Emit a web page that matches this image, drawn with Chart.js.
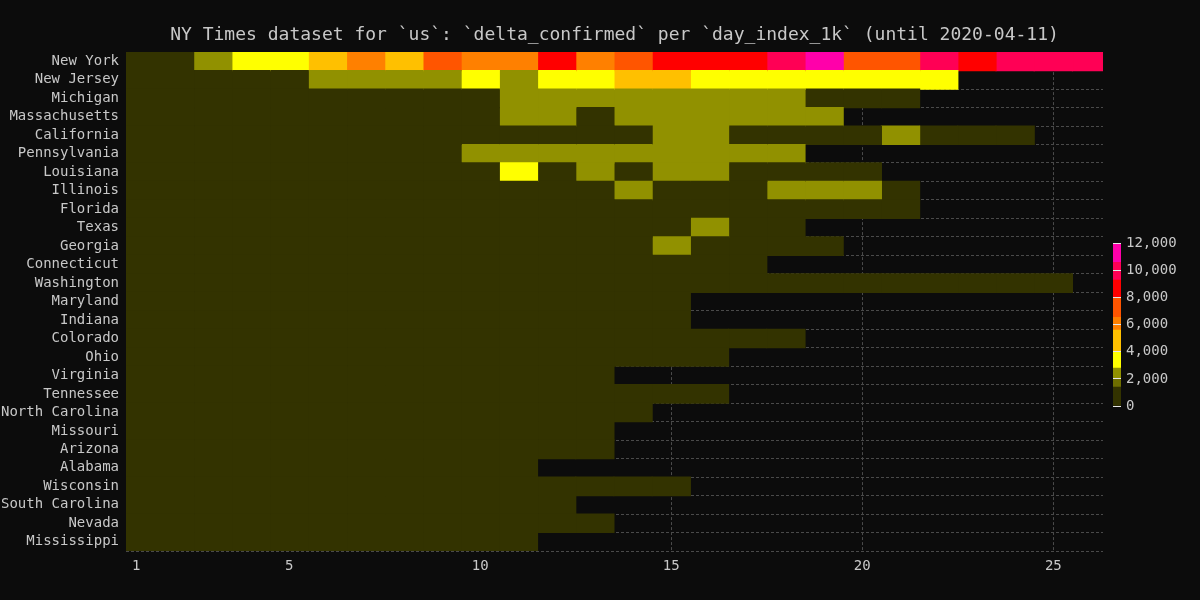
<!DOCTYPE html>
<html>
<head>
<meta charset="utf-8">
<script src="https://cdn.jsdelivr.net/npm/chart.js@4.4.1/dist/chart.umd.min.js"></script>
<style>
  html, body { margin: 0; padding: 0; background: #0c0c0c; }
  #wrap { position: relative; width: 1200px; height: 600px; background: #0c0c0c; }
  #main { position: absolute; left: 0; top: 0; }
  #bar { position: absolute; left: 1100px; top: 230px; }
</style>
</head>
<body>
<div id="wrap">
  <canvas id="main" width="1200" height="600"></canvas>
  <canvas id="bar" width="100" height="190"></canvas>
</div>
<script>
// ---------- data ----------
const days = [1, 2, 3, 4, 5, 6, 7, 8, 9, 10, 11, 12, 13, 14, 15, 16, 17, 18, 19, 20, 21, 22, 23, 24, 25, 26];
const xTicks = [1, 5, 10, 15, 20, 25];

const states = ['New York', 'New Jersey', 'Michigan', 'Massachusetts', 'California', 'Pennsylvania',
  'Louisiana', 'Illinois', 'Florida', 'Texas', 'Georgia', 'Connecticut', 'Washington', 'Maryland',
  'Indiana', 'Colorado', 'Ohio', 'Virginia', 'Tennessee', 'North Carolina', 'Missouri', 'Arizona',
  'Alabama', 'Wisconsin', 'South Carolina', 'Nevada', 'Mississippi'];

// delta_confirmed per day_index_1k, one array per state
const newYork       = [600, 1200, 2400, 3700, 3300, 4900, 5800, 4700, 7300, 6300, 6200, 8700, 6200, 7300, 9000, 8400, 8900, 10300, 11200, 7600, 7800, 10100, 8900, 9900, 10400, 9700];
const newJersey     = [200, 400, 500, 700, 900, 2300, 2500, 2300, 2600, 3500, 2300, 3600, 3500, 4300, 4100, 3400, 3700, 3600, 3300, 3900, 3600, 3500];
const michigan      = [300, 350, 500, 550, 700, 800, 900, 1000, 1200, 1300, 2100, 2400, 2200, 2500, 2300, 2600, 2200, 2100, 1300, 1200, 1000];
const massachusetts = [400, 500, 600, 700, 800, 900, 1000, 1100, 1200, 1300, 2100, 2200, 1300, 2200, 2100, 2500, 2300, 2700, 2400];
const california    = [300, 400, 450, 500, 600, 700, 800, 900, 1000, 1100, 1200, 1300, 1200, 1300, 2100, 2100, 1300, 1200, 1300, 1250, 2200, 1300, 1100, 1000];
const pennsylvania  = [200, 250, 300, 400, 600, 700, 900, 1100, 1300, 2100, 2200, 2300, 2200, 2500, 2400, 2300, 2200, 2100];
const louisiana     = [300, 400, 500, 600, 700, 900, 1000, 1200, 1300, 1100, 3100, 1300, 2100, 1200, 2200, 2100, 1000, 1200, 1300, 1100];
const illinois      = [300, 400, 500, 600, 700, 800, 900, 1000, 1100, 1200, 1300, 1200, 1300, 2100, 1300, 1250, 1350, 2200, 2300, 2100, 1300];
const florida       = [300, 350, 400, 500, 600, 700, 800, 900, 1000, 1100, 1200, 1000, 1100, 1200, 1300, 1100, 1200, 1250, 1300, 1100, 1150];
const texas         = [200, 300, 400, 500, 600, 700, 800, 900, 1000, 1000, 1100, 1100, 1200, 1200, 1300, 2100, 1200, 1100];
const georgia       = [200, 300, 400, 450, 500, 600, 700, 800, 900, 1000, 1100, 1200, 1300, 1200, 2200, 1300, 1100, 1200, 1000];
const connecticut   = [200, 300, 400, 500, 550, 600, 700, 800, 900, 1000, 1100, 1000, 1200, 1100, 1300, 1200, 1100];
const washington    = [200, 150, 250, 300, 350, 400, 450, 500, 550, 600, 500, 450, 400, 500, 550, 600, 450, 400, 350, 500, 400, 350, 300, 400, 350];
const maryland      = [150, 250, 300, 350, 400, 500, 600, 650, 700, 800, 900, 1000, 1100, 1000, 1200];
const indiana       = [200, 250, 300, 350, 400, 450, 500, 500, 600, 700, 650, 500, 550, 600, 550];
const colorado      = [200, 250, 300, 350, 400, 350, 300, 400, 450, 350, 400, 450, 350, 400, 300, 350, 400, 350];
const ohio          = [200, 250, 300, 350, 400, 350, 400, 450, 400, 450, 350, 400, 450, 350, 400, 350];
const virginia      = [150, 200, 250, 300, 250, 300, 350, 400, 350, 300, 400, 450, 400];
const tennessee     = [200, 250, 300, 350, 300, 350, 250, 300, 350, 300, 250, 300, 350, 250, 300, 250];
const northCarolina = [150, 200, 250, 300, 250, 300, 350, 300, 250, 300, 350, 300, 250, 300];
const missouri      = [200, 250, 300, 350, 300, 350, 400, 350, 300, 350, 300, 250, 300];
const arizona       = [150, 200, 250, 300, 250, 300, 250, 200, 250, 300, 250, 200, 250];
const alabama       = [150, 200, 150, 250, 200, 150, 200, 250, 150, 200, 250];
const wisconsin     = [150, 200, 150, 200, 250, 200, 150, 200, 150, 200, 150, 200, 150, 200, 150];
const southCarolina = [150, 200, 250, 200, 150, 200, 250, 200, 150, 200, 250, 200];
const nevada        = [150, 200, 150, 100, 150, 200, 150, 100, 150, 200, 150, 100, 150];
const mississippi   = [100, 150, 200, 150, 100, 150, 200, 150, 100, 150, 200];

const rows = [newYork, newJersey, michigan, massachusetts, california, pennsylvania, louisiana,
  illinois, florida, texas, georgia, connecticut, washington, maryland, indiana, colorado, ohio,
  virginia, tennessee, northCarolina, missouri, arizona, alabama, wisconsin, southCarolina, nevada, mississippi];

// colour scale
const colorStops = [0, 1400, 2000, 2800, 4000, 5600, 6550, 8000, 9300, 10600, 12000];
const colorBands = ['#333300', '#6e6e00', '#919100', '#ffff00', '#ffc000', '#ff8000', '#ff5500', '#ff0000', '#ff0055', '#ff00aa'];
const colorbarTicks = [0, 2000, 4000, 6000, 8000, 10000, 12000];

// ---------- helpers ----------
function colorFor(v) {
  for (let i = colorBands.length - 1; i >= 0; i--) {
    if (v >= colorStops[i]) return colorBands[i];
  }
  return colorBands[0];
}

const FONT = "'DejaVu Sans Mono', 'Liberation Mono', monospace";
const TEXT = '#c8c8c8';
const GRID = '#4a4a4a';

// ---------- main heatmap ----------
const datasets = days.map((d, di) => ({
  label: String(d),
  data: rows.map(r => (di < r.length ? [d - 0.5, d + 0.5] : null)),
  backgroundColor: rows.map(r => (di < r.length ? colorFor(r[di]) : 'rgba(0,0,0,0)')),
  borderWidth: 0,
  inflateAmount: 0.6,
  grouped: false,
  barPercentage: 1,
  categoryPercentage: 1,
}));

new Chart(document.getElementById('main'), {
  type: 'bar',
  data: { labels: states, datasets },
  options: {
    indexAxis: 'y',
    responsive: false,
    animation: false,
    layout: { padding: { left: 0, right: 97, top: 0, bottom: 25 } },
    plugins: {
      legend: { display: false },
      tooltip: { enabled: false },
      title: {
        display: true,
        fullSize: false,
        text: 'NY Times dataset for `us`: `delta_confirmed` per `day_index_1k` (until 2020-04-11)',
        color: TEXT,
        font: { family: FONT, size: 18, weight: 'normal' },
        padding: { top: 24.5, bottom: 6 },
      },
    },
    scales: {
      x: {
        type: 'linear',
        min: 0.73,
        max: 26.3,
        afterBuildTicks: s => { s.ticks = xTicks.map(v => ({ value: v })); },
        afterFit: s => { s.height = 24; },
        ticks: { color: TEXT, font: { family: FONT, size: 14 }, padding: 7, autoSkip: false, maxRotation: 0 },
        grid: { color: GRID, drawTicks: false, lineWidth: 1 },
        border: { display: false, dash: [3, 2] },
      },
      y: {
        type: 'category',
        offset: true,
        afterFit: s => { s.width = 126; },
        ticks: { color: TEXT, font: { family: FONT, size: 14 }, padding: 7, autoSkip: false },
        grid: { color: GRID, offset: true, drawTicks: false, lineWidth: 1 },
        border: { display: false, dash: [3, 2] },
      },
    },
  },
});

// ---------- colour bar ----------
const barSets = colorBands.map((c, i) => ({
  data: [[colorStops[i], colorStops[i + 1]]],
  backgroundColor: c,
  borderWidth: 0,
  grouped: false,
  barPercentage: 1,
  categoryPercentage: 1,
}));

new Chart(document.getElementById('bar'), {
  type: 'bar',
  data: { labels: [''], datasets: barSets },
  options: {
    responsive: false,
    animation: false,
    layout: { padding: { left: 13, top: 12, bottom: 14, right: 0 } },
    plugins: { legend: { display: false }, tooltip: { enabled: false } },
    scales: {
      x: { display: false },
      y: {
        type: 'linear',
        position: 'right',
        min: 0,
        max: 12000,
        afterBuildTicks: s => { s.ticks = colorbarTicks.map(v => ({ value: v })); },
        afterFit: s => { s.width = 79; },
        ticks: {
          color: TEXT,
          font: { family: FONT, size: 14 },
          padding: 5,
          callback: v => Number(v).toLocaleString('en-US'),
        },
        grid: { color: '#e6e6e6', z: 1, drawTicks: false, lineWidth: 1 },
        border: { display: false },
      },
    },
  },
});
</script>
</body>
</html>
